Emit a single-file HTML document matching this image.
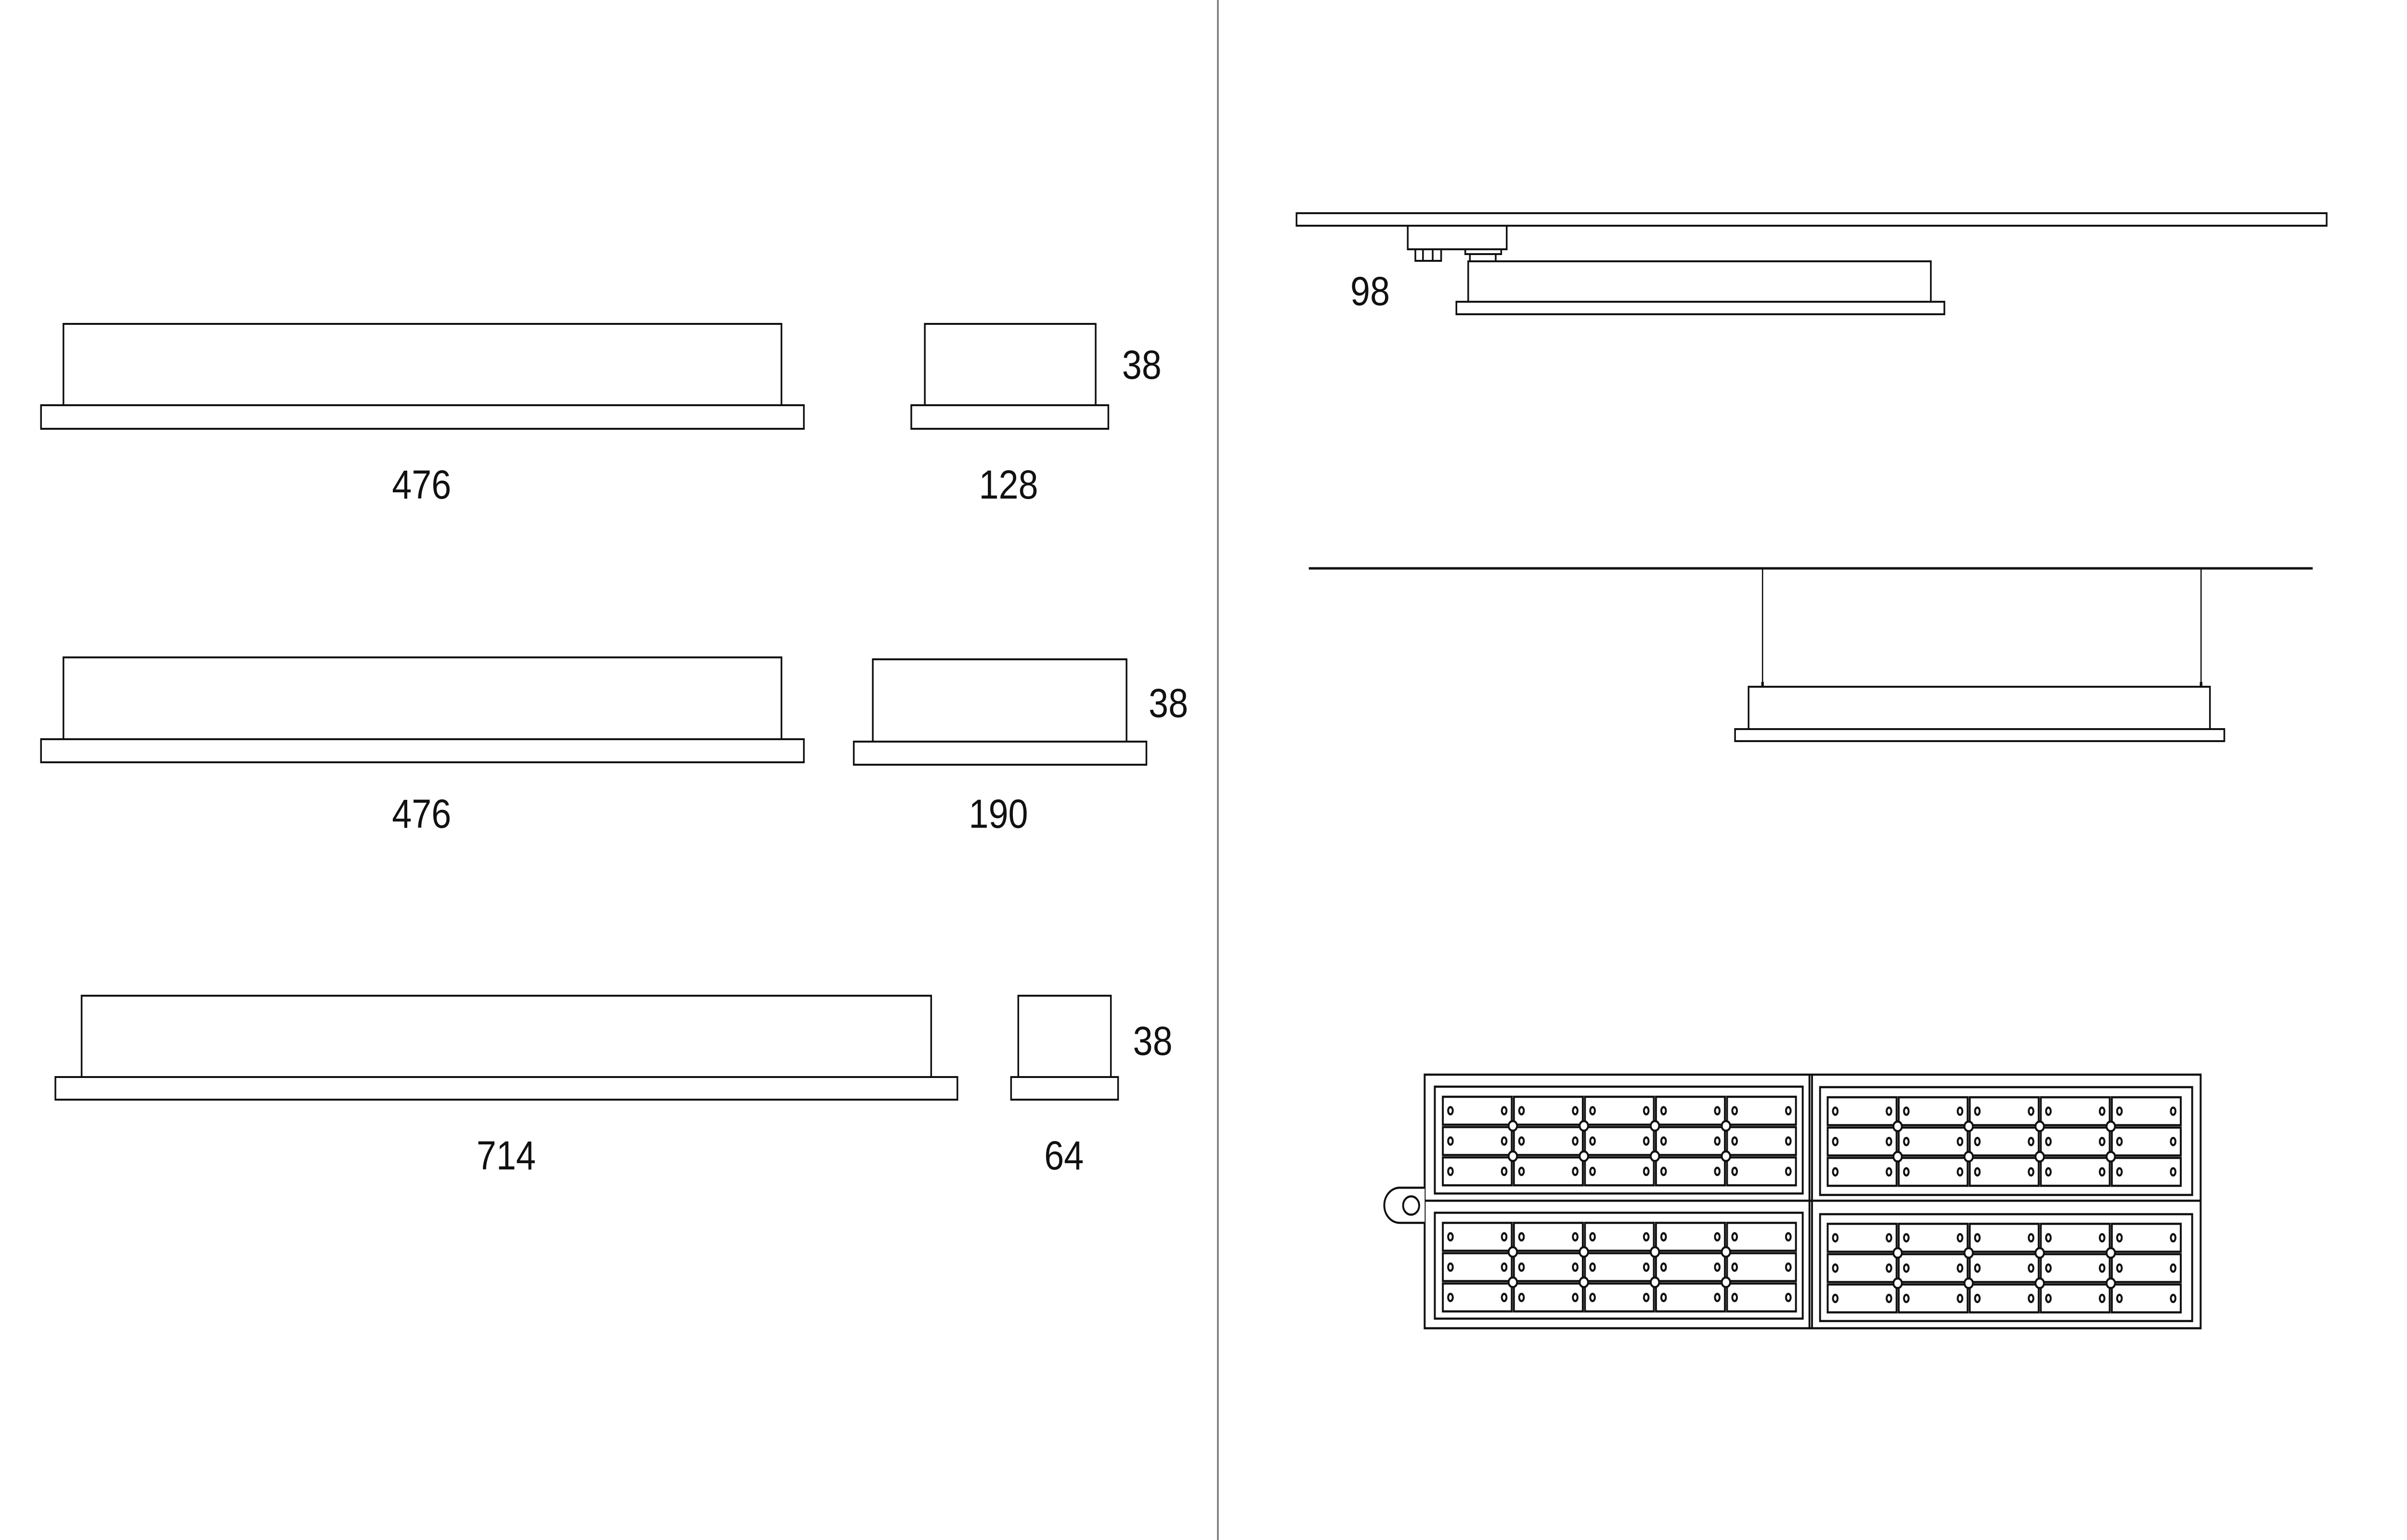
<!DOCTYPE html>
<html><head><meta charset="utf-8"><style>html,body{margin:0;padding:0;background:#fff;overflow:hidden}svg{display:block;width:100vw;height:100vh}</style></head>
<body>
<svg xmlns="http://www.w3.org/2000/svg" viewBox="0 0 5692 3200" preserveAspectRatio="none">
<rect width="5692" height="3200" fill="#fff"/>
<g fill="none" stroke="#111" stroke-width="4">
<rect x="150" y="673" width="1698" height="169"/>
<rect x="97" y="842" width="1804" height="49"/>
<rect x="2187" y="673" width="404" height="169"/>
<rect x="2155" y="842" width="466" height="49"/>
<rect x="150" y="1366" width="1698" height="170"/>
<rect x="97" y="1536" width="1804" height="48"/>
<rect x="2064" y="1370" width="600" height="171"/>
<rect x="2019" y="1541" width="692" height="48"/>
<rect x="193" y="2069" width="2009" height="169"/>
<rect x="131" y="2238" width="2133" height="47"/>
<rect x="2408" y="2069" width="219" height="169"/>
<rect x="2391" y="2238" width="253" height="47"/>
</g>
<line x1="2880" y1="0" x2="2880" y2="3200" stroke="#777" stroke-width="4"/>
<g font-family="Liberation Sans, sans-serif" font-size="84" fill="#111" text-anchor="middle">
<text x="997" y="1036">476</text>
<text x="2385" y="1036">128</text>
<text x="2700" y="787">38</text>
<text x="997" y="1720">476</text>
<text x="2361" y="1720">190</text>
<text x="2763" y="1490">38</text>
<text x="1197" y="2430">714</text>
<text x="2516" y="2430">64</text>
<text x="2726" y="2192">38</text>
<text x="3240" y="634">98</text>
</g>
<g fill="none" stroke="#111" stroke-width="4">
<rect x="3066" y="443" width="2436" height="26"/>
<rect x="3329" y="469" width="234" height="49"/>
<rect x="3347" y="518" width="61" height="24"/>
<line x1="3365" y1="518" x2="3365" y2="542"/>
<line x1="3388" y1="518" x2="3388" y2="542"/>
<rect x="3465" y="518" width="85" height="10"/>
<rect x="3476" y="528" width="61" height="15"/>
<rect x="3472" y="543" width="1094" height="84"/>
<rect x="3444" y="627" width="1154" height="26"/>
</g>
<g fill="none" stroke="#111">
<line x1="3095" y1="1181" x2="5469" y2="1181" stroke-width="5"/>
<line x1="4168" y1="1181" x2="4168" y2="1427" stroke-width="3"/>
<line x1="5205" y1="1181" x2="5205" y2="1427" stroke-width="3"/>
<rect x="4166" y="1418" width="4" height="9" stroke-width="2"/>
<rect x="5203" y="1418" width="4" height="9" stroke-width="2"/>
<rect x="4135" y="1427" width="1091" height="88" stroke-width="4"/>
<rect x="4103" y="1515" width="1157" height="25" stroke-width="4"/>
</g>
<defs>
<g id="cell">
<rect x="0" y="0" width="163" height="58"/>
<ellipse cx="18" cy="29" rx="5.5" ry="7.5"/>
<ellipse cx="145" cy="29" rx="5.5" ry="7.5"/>
</g>
<g id="grid">
<use href="#cell" x="0" y="0"/><use href="#cell" x="168" y="0"/><use href="#cell" x="336" y="0"/><use href="#cell" x="504" y="0"/><use href="#cell" x="672" y="0"/>
<use href="#cell" x="0" y="63"/><use href="#cell" x="168" y="63"/><use href="#cell" x="336" y="63"/><use href="#cell" x="504" y="63"/><use href="#cell" x="672" y="63"/>
<use href="#cell" x="0" y="126"/><use href="#cell" x="168" y="126"/><use href="#cell" x="336" y="126"/><use href="#cell" x="504" y="126"/><use href="#cell" x="672" y="126"/>
<g fill="#fff">
<circle cx="165.5" cy="60.5" r="10"/><circle cx="333.5" cy="60.5" r="10"/><circle cx="501.5" cy="60.5" r="10"/><circle cx="669.5" cy="60.5" r="10"/>
<circle cx="165.5" cy="123.5" r="10"/><circle cx="333.5" cy="123.5" r="10"/><circle cx="501.5" cy="123.5" r="10"/><circle cx="669.5" cy="123.5" r="10"/>
</g>
</g>
</defs>
<g fill="none" stroke="#111" stroke-width="4.5">
<rect x="3369" y="2233" width="1835" height="527"/>
<line x1="3369" y1="2495" x2="5204" y2="2495"/>
<line x1="4279" y1="2233" x2="4279" y2="2760"/>
<line x1="4285" y1="2233" x2="4285" y2="2760"/>
<path d="M3369 2468 H3310 A36.5 36.5 0 0 0 3310 2541 H3369" fill="#fff"/>
<circle cx="3337" cy="2505" r="19"/>
<rect x="3393" y="2258" width="870" height="222"/>
<rect x="3393" y="2520" width="870" height="220"/>
<rect x="4304" y="2259" width="880" height="224"/>
<rect x="4304" y="2523" width="880" height="222"/>
<use href="#grid" x="3412" y="2279"/>
<use href="#grid" x="3412" y="2541"/>
<use href="#grid" x="4322" y="2280"/>
<use href="#grid" x="4322" y="2543"/>
</g>
</svg>
</body></html>
